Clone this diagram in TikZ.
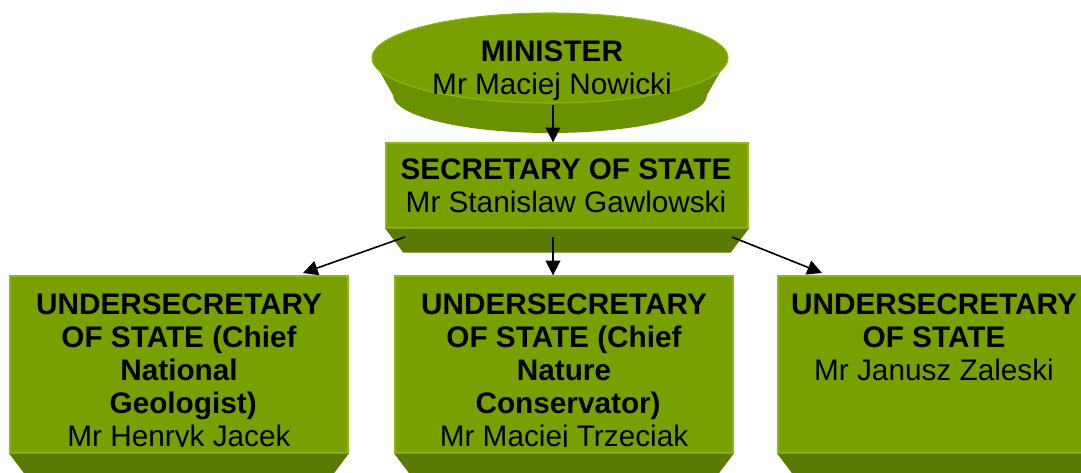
\documentclass[tikz,border=0pt]{standalone}
\usepackage{fontspec}
\setmainfont{Liberation Sans}
\usetikzlibrary{shapes.geometric,arrows.meta}
\definecolor{facegreen}{RGB}{119,160,0}
\definecolor{bevelgreen}{RGB}{90,122,0}
\definecolor{edgegreen}{RGB}{140,184,20}
\definecolor{discside}{RGB}{106,146,0}

\begin{document}
\begin{tikzpicture}
[every node/.style={inner sep=0pt},
 face/.style={rectangle, fill=facegreen, draw=edgegreen, line width=1pt},
 unitbox/.style={face, minimum width=253.5pt, minimum height=132.75pt},
 bevel/.style={fill=bevelgreen},
 title/.style={align=center, anchor=north, font=\fontsize{22.3pt}{24.75pt}\selectfont},
 link/.style={line width=1.2pt, -{Triangle[length=11pt,width=11pt]}, color=black}]
\clip (0pt, 0pt) rectangle (810.75pt, -354.75pt);
% minister disc
\fill [discside] (412.5pt, -71.25pt) ellipse [x radius=117.75pt, y radius=28.5pt];
\fill [discside] (279pt, -43.5pt) -- (294.75pt, -71.25pt) -- (530.25pt, -71.25pt) -- (546pt, -43.5pt) -- cycle;
\node (minister) [ellipse, minimum width=267pt, minimum height=67.5pt, fill=facegreen, draw=edgegreen, line width=0.8pt] at (412.5pt, -43.5pt) {};
\node (ministertext) [title] at (414pt, -30pt) {\textbf{MINISTER}\\Mr Maciej Nowicki};
% secretary
\node (sec) [face, minimum width=271.5pt, minimum height=63.75pt] at (425.25pt, -139.125pt) {};
\fill [bevel] (sec.south west) -- ([xshift=13.5pt, yshift=-18pt]sec.south west) -- ([xshift=-13.5pt, yshift=-18pt]sec.south east) -- (sec.south east) -- cycle;
\node (sectext) [title] at (424.5pt, -118.5pt) {\textbf{SECRETARY OF STATE}\\Mr Stanislaw Gawlowski};
% undersecretaries
\node (und1) [unitbox] at (134.25pt, -273.375pt) {};
\node (und2) [unitbox] at (423pt, -273.375pt) {};
\node (und3) [unitbox] at (710.25pt, -273.375pt) {};
\fill [bevel] (und1.south west) -- ([xshift=13.5pt, yshift=-18pt]und1.south west) -- ([xshift=-13.5pt, yshift=-18pt]und1.south east) -- (und1.south east) -- cycle;
\fill [bevel] (und2.south west) -- ([xshift=13.5pt, yshift=-18pt]und2.south west) -- ([xshift=-13.5pt, yshift=-18pt]und2.south east) -- (und2.south east) -- cycle;
\fill [bevel] (und3.south west) -- ([xshift=13.5pt, yshift=-18pt]und3.south west) -- ([xshift=-13.5pt, yshift=-18pt]und3.south east) -- (und3.south east) -- cycle;
\begin{scope}
\clip (0pt, -200pt) rectangle (810.75pt, -335.25pt);
\node (und1text) [title] at (134.25pt, -219.75pt) {\textbf{UNDERSECRETARY}\\\textbf{OF STATE (Chief}\\\textbf{National}\\\textbf{\ Geologist)}\\Mr Henryk Jacek};
\node (und2text) [title] at (423pt, -219.75pt) {\textbf{UNDERSECRETARY}\\\textbf{OF STATE (Chief}\\\textbf{Nature}\\\textbf{\ Conservator)}\\Mr Maciej Trzeciak};
\node (und3text) [title] at (700.5pt, -219.75pt) {\textbf{UNDERSECRETARY}\\\textbf{OF STATE}\\Mr Janusz Zaleski};
\end{scope}
% connectors
\coordinate (mtail) at (414.75pt, -78.75pt);
\coordinate (secL) at (303.75pt, -177.75pt);
\coordinate (secM) at (414.75pt, -177.75pt);
\coordinate (secR) at (549pt, -177.75pt);
\coordinate (und1in) at (227.25pt, -204.75pt);
\coordinate (und3in) at (616.5pt, -204.75pt);
\draw [link] (mtail) -- (mtail |- sec.north);
\draw [link] (secL) -- (und1in);
\draw [link] (secM) -- (secM |- und2.north);
\draw [link] (secR) -- (und3in);
\end{tikzpicture}
\end{document}
